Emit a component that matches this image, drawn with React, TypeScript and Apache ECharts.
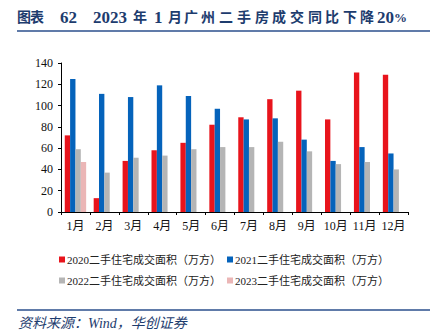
import React, { useEffect, useRef } from "react";
import * as echarts from "echarts";

const months = ["1月", "2月", "3月", "4月", "5月", "6月", "7月", "8月", "9月", "10月", "11月", "12月"];
const seriesNames = [
  "2020二手住宅成交面积（万方）",
  "2021二手住宅成交面积（万方）",
  "2022二手住宅成交面积（万方）",
  "2023二手住宅成交面积（万方）",
];
const v2020 = [72, 13, 48, 58, 65, 82, 89, 106, 114, 87, 131, 129];
const v2021 = [125, 111, 108, 119, 109, 97, 87, 88, 68, 48, 61, 55];
const v2022 = [59, 37, 51, 53, 59, 61, 61, 66, 57, 45, 47, 40];
const v2023 = [47, null, null, null, null, null, null, null, null, null, null, null];
const colors = ["#e8141c", "#0563bb", "#b5b5b5", "#ebb6b6"];
const yTicks = { min: 0, max: 140, interval: 20 };

const serif = "'Liberation Serif', 'Times New Roman', 'Noto Sans CJK SC', serif";
const titleColor = "#1d3c6e";

// title pieces: [text, left x, font size]
const titlePieces: [string, number, number][] = [
  ["图", 17, 14], ["表", 30, 14], ["62", 60, 17], ["2023", 93, 17],
  ["年", 133, 14], ["1", 154, 17], ["月", 168, 14], ["广", 184, 14],
  ["州", 201, 14], ["二", 219, 14], ["手", 237, 14], ["房", 255, 14],
  ["成", 272, 14], ["交", 290, 14], ["同", 308, 14], ["比", 325, 14],
  ["下", 343, 14], ["降", 360, 14], ["20", 377, 17], ["%", 394, 13],
];

const legendPos: [number, number][] = [[54, 249], [222, 249], [54, 270], [222, 270]];

export default function App() {
  const ref = useRef<HTMLDivElement>(null);
  useEffect(() => {
    if (!ref.current) return;
    const chart = echarts.init(ref.current, null, { renderer: "svg" });
    const data = [v2020, v2021, v2022, v2023];
    const titleGraphics = titlePieces.map(([t, x, size]) => ({
      type: "text",
      x,
      y: 17,
      style: {
        text: t,
        font: `bold ${size}px ${serif}`,
        fill: titleColor,
        verticalAlign: "middle",
      },
    }));
    chart.setOption({
      animation: false,
      backgroundColor: "#ffffff",
      graphic: [
        ...titleGraphics,
        {
          type: "line",
          shape: { x1: 17, y1: 31, x2: 430, y2: 31 },
          style: { stroke: "#2b4f8c", lineWidth: 1.5 },
        },
        {
          type: "line",
          shape: { x1: 17, y1: 310, x2: 430, y2: 310 },
          style: { stroke: "#2b4f8c", lineWidth: 1.5 },
        },
        {
          type: "text",
          left: 18,
          top: 316,
          style: {
            text: "资料来源：Wind，华创证券",
            font: `italic 14px ${serif}`,
            fill: titleColor,
          },
        },
      ],
      legend: seriesNames.map((name, i) => ({
        data: [name],
        left: legendPos[i][0],
        top: legendPos[i][1],
        itemWidth: 6,
        itemHeight: 6,
        icon: "rect",
        textStyle: { fontSize: 11, fontFamily: serif, color: "#222", padding: [0, 0, 0, -3] },
      })),
      grid: { left: 61, right: 22, top: 63, bottom: 122, containLabel: false },
      xAxis: {
        type: "category",
        data: months,
        axisLine: { lineStyle: { color: "#000", width: 1 } },
        axisTick: { show: true, length: 3, lineStyle: { color: "#000" } },
        axisLabel: { fontSize: 12, fontFamily: serif, color: "#111", margin: 8, interval: 0 },
      },
      yAxis: {
        type: "value",
        min: yTicks.min,
        max: yTicks.max,
        interval: yTicks.interval,
        axisLine: { show: true, lineStyle: { color: "#000", width: 1 } },
        axisTick: { show: true, length: 3, lineStyle: { color: "#000" } },
        splitLine: { show: false },
        axisLabel: { fontSize: 12, fontFamily: serif, color: "#111", margin: 8 },
      },
      series: seriesNames.map((name, i) => ({
        name,
        type: "bar",
        data: data[i],
        itemStyle: { color: colors[i] },
        barGap: "0%",
        barCategoryGap: "26%",
      })),
    });
    return () => chart.dispose();
  }, []);
  return <div ref={ref} style={{ width: 430, height: 334, position: "absolute", left: 0, top: 0 }} />;
}
